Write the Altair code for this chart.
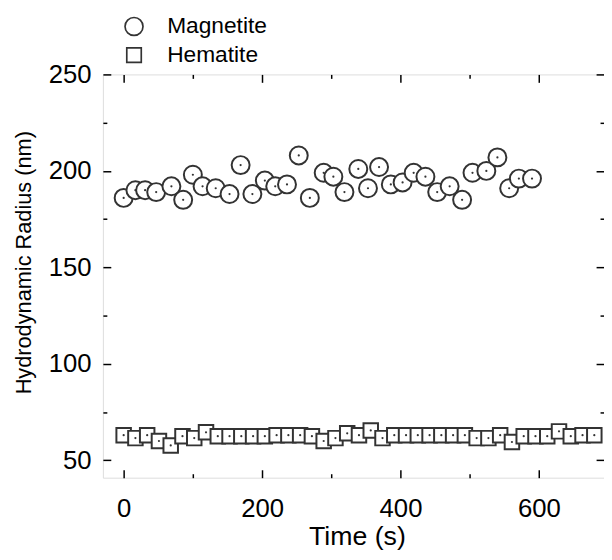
import altair as alt
import pandas as pd

# Magnetite (circles)
mag_t = [0, 17, 31, 47, 69, 86, 100, 114, 133, 153, 169, 186, 204, 219, 236, 253, 269, 289,
         303, 319, 339, 353, 369, 386, 403, 419, 436, 453, 471, 489, 504, 524, 540, 557, 571, 590]
mag_r = [186, 190, 190, 189, 192, 185, 198, 192, 191, 188, 203, 188, 195, 192, 193, 208, 186, 199,
         197, 189, 201, 191, 202, 193, 194, 199, 197, 189, 192, 185, 199, 200, 207, 191, 196, 196]

# Hematite (squares)
hem_t = [0, 17, 34, 51, 68, 85, 102, 119, 136, 153, 170, 187, 204, 221, 238, 255, 272, 289, 306,
         323, 340, 357, 374, 391, 408, 425, 442, 459, 476, 493, 510, 527, 544, 561, 578, 595, 612,
         629, 646, 663, 680]
hem_r = [63, 61.5, 63, 60, 57.7, 62.5, 61.5, 64.5, 62.5, 62.5, 62.5, 62.5, 62.5, 63, 63, 63, 62.5,
         60, 61.5, 64, 63, 65.5, 61.5, 63, 63, 63, 63, 63, 63, 63, 61.5, 61.5, 63, 59.5, 62.5, 62.5,
         62.5, 65, 62.5, 63, 63]

series = ["Magnetite", "Hematite"]
x_ticks = [0, 100, 200, 300, 400, 500, 600]
y_ticks = [50, 75, 100, 125, 150, 175, 200, 225, 250]

df = pd.DataFrame({
    "t": mag_t + hem_t,
    "r": mag_r + hem_r,
    "series": [series[0]] * len(mag_t) + [series[1]] * len(hem_t),
})

FONT = "Liberation Sans"
INK = "#333333"

xscale = alt.Scale(domain=[-30, 694], nice=False, zero=False)
yscale = alt.Scale(domain=[41, 250], nice=False, zero=False)

x_main = alt.X("t:Q", scale=xscale, axis=alt.Axis(
    values=x_ticks, grid=False, domain=False,
    labelExpr="datum.value % 200 === 0 ? datum.label : ''",
    tickSize={"expr": "datum.value % 200 === 0 ? -8 : -4"},
    tickColor="black", tickWidth=1.5,
    labelFont=FONT, labelFontSize=26, labelColor="black", labelPadding=26,
    title="Time (s)", titleFont=FONT, titleFontSize=27, titleFontWeight="normal",
    titleColor="black", titleX=257, titleY=60, titleBaseline="middle",
))
y_main = alt.Y("r:Q", scale=yscale, axis=alt.Axis(
    values=y_ticks, grid=False, domain=False,
    labelExpr="datum.value % 50 === 0 ? datum.label : ''",
    tickSize={"expr": "datum.value % 50 === 0 ? -8 : -4"},
    tickColor="black", tickWidth=1.5,
    labelFont=FONT, labelFontSize=26, labelColor="black", labelPadding=20,
    title="Hydrodynamic Radius (nm)", titleFont=FONT, titleFontSize=22,
    titleFontWeight="normal", titleColor="black",
    titleX=-80, titleY=190, titleBaseline="middle",
))

legend = alt.Legend(
    orient="none", legendX=20, legendY=-60, title=None,
    labelFont=FONT, labelFontSize=23, labelColor="black",
    symbolStrokeWidth=1.7, symbolOpacity=1,
    labelOffset=22, rowPadding=5,
)

points = alt.Chart(df).mark_point(strokeWidth=2, opacity=1).encode(
    x=x_main,
    y=y_main,
    shape=alt.Shape("series:N", scale=alt.Scale(domain=series, range=["circle", "square"]),
                    legend=legend),
    size=alt.Size("series:N", scale=alt.Scale(domain=series, range=[330, 215]), legend=legend),
    stroke=alt.Stroke("series:N", scale=alt.Scale(domain=series, range=[INK, INK]), legend=legend),
    fill=alt.value("white"),
)

# centre dots of each marker; this layer also carries the mirrored top/right axes
dots = alt.Chart(df).mark_circle(size=5, color=INK, opacity=1).encode(
    x=alt.X("t:Q", scale=xscale, axis=alt.Axis(
        orient="top", values=x_ticks, labels=False, title=None, grid=False, domain=False,
        tickSize={"expr": "datum.value % 200 === 0 ? -8 : -4"},
        tickColor="black", tickWidth=1.5)),
    y=alt.Y("r:Q", scale=yscale, axis=alt.Axis(
        orient="right", values=y_ticks, labels=False, title=None, grid=False, domain=False,
        tickSize={"expr": "datum.value % 50 === 0 ? -8 : -4"},
        tickColor="black", tickWidth=1.5)),
)

chart = alt.layer(points, dots).resolve_axis(x="independent", y="independent").properties(
    width=507, height=408,
    autosize=alt.AutoSizeParams(type="none"),
    padding={"left": 96, "top": 64, "right": 0, "bottom": 72},
).configure_view(stroke="black", strokeWidth=2).configure(background="white")

chart.save("out.html", embed_options={"renderer": "svg", "actions": False})
